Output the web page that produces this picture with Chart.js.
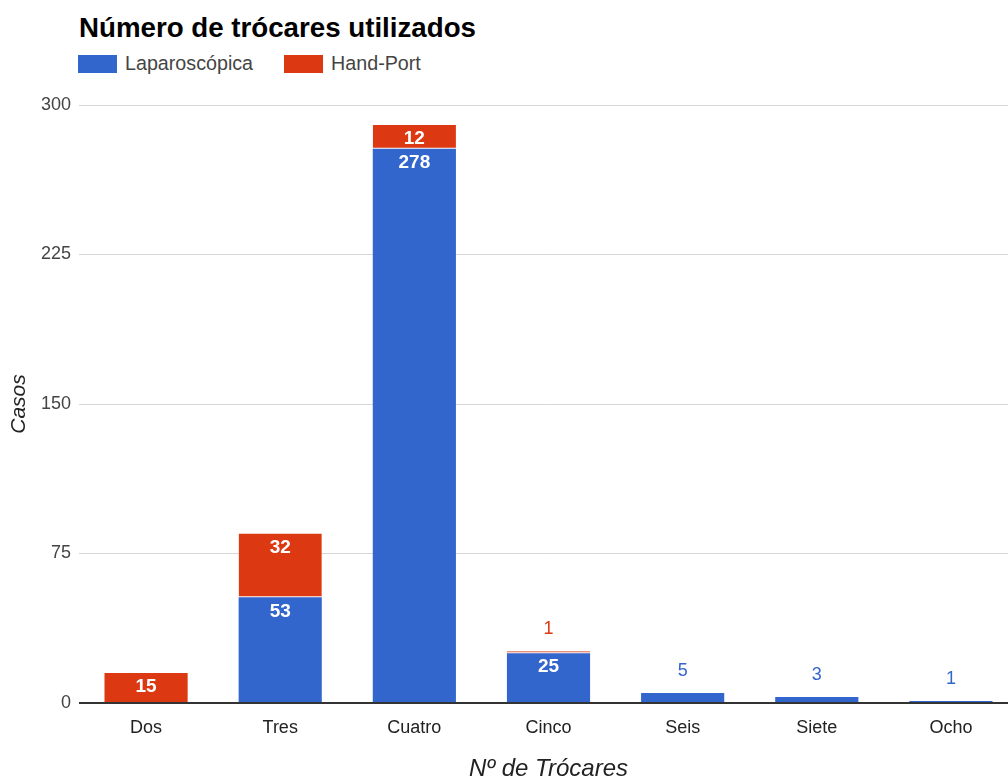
<!DOCTYPE html>
<html lang="es">
<head>
<meta charset="utf-8">
<title>Número de trócares utilizados</title>
<script src="https://cdn.jsdelivr.net/npm/chart.js@4.4.1/dist/chart.umd.min.js"></script>
<style>
  html, body {
    margin: 0;
    padding: 0;
    background: #fff;
  }
  body {
    position: relative;
    width: 1008px;
    height: 781px;
    overflow: hidden;
    font-family: "Liberation Sans", Arial, sans-serif;
  }
  #chartTitle {
    position: absolute;
    left: 79px;
    top: 12px;
    font-size: 27.7px;
    font-weight: bold;
    color: #000;
    white-space: nowrap;
  }
  #legend {
    position: absolute;
    left: 78px;
    top: 52px;
    display: flex;
    align-items: center;
  }
  .legend-item {
    display: flex;
    align-items: center;
    margin-right: 31px;
    font-size: 19.7px;
    color: #444;
  }
  .legend-swatch {
    width: 39px;
    height: 18px;
    margin-right: 8px;
  }
  #chart {
    position: absolute;
    left: 0;
    top: 0;
  }
</style>
</head>
<body>
<div id="chartTitle">Número de trócares utilizados</div>
<div id="legend"></div>
<canvas id="chart" width="1020" height="781"></canvas>
<script>
const categories = ['Dos', 'Tres', 'Cuatro', 'Cinco', 'Seis', 'Siete', 'Ocho'];
const laparoscopica = [0, 53, 278, 25, 5, 3, 1];
const handPort = [15, 32, 12, 1, 0, 0, 0];
const yTicks = [0, 75, 150, 225, 300];

const seriesNames = ['Laparoscópica', 'Hand-Port'];
const seriesColors = ['#3366cc', '#dc3912'];

const fontFamily = '"Liberation Sans", Arial, sans-serif';
Chart.defaults.font.family = fontFamily;

// legend row under the title
const legendEl = document.getElementById('legend');
seriesNames.forEach((name, index) => {
  const item = document.createElement('div');
  item.className = 'legend-item';
  const swatch = document.createElement('div');
  swatch.className = 'legend-swatch';
  swatch.style.background = seriesColors[index];
  const label = document.createElement('span');
  label.textContent = name;
  item.appendChild(swatch);
  item.appendChild(label);
  legendEl.appendChild(item);
});

// value labels: white inside tall segments, coloured above short ones
const barLabels = {
  id: 'barLabels',
  afterDatasetsDraw(chart) {
    const { ctx } = chart;
    ctx.save();
    ctx.textAlign = 'center';
    ctx.textBaseline = 'middle';
    chart.data.datasets.forEach((dataset, i) => {
      const meta = chart.getDatasetMeta(i);
      meta.data.forEach((bar, j) => {
        const value = dataset.data[j];
        if (!value) return;
        const height = bar.base - bar.y;
        if (height >= 20) {
          ctx.fillStyle = '#fff';
          ctx.font = `bold 19px ${fontFamily}`;
          ctx.fillText(String(value), bar.x, bar.y + 14);
        } else {
          ctx.fillStyle = dataset.backgroundColor;
          ctx.font = `18px ${fontFamily}`;
          ctx.fillText(String(value), bar.x, bar.y - 22);
        }
      });
    });
    ctx.restore();
  }
};

const ctx = document.getElementById('chart');
const chart = new Chart(ctx, {
  type: 'bar',
  data: {
    labels: categories,
    datasets: [
      {
        label: seriesNames[0],
        data: laparoscopica,
        backgroundColor: seriesColors[0],
        borderWidth: 0,
        categoryPercentage: 1,
        barPercentage: 0.62
      },
      {
        label: seriesNames[1],
        data: handPort,
        backgroundColor: seriesColors[1],
        borderColor: '#ffffff',
        // white seam only where a blue segment sits underneath
        borderWidth: (context) => (laparoscopica[context.dataIndex] > 0 ? { bottom: 1, top: 0, left: 0, right: 0 } : 0),
        borderSkipped: false,
        categoryPercentage: 1,
        barPercentage: 0.62
      }
    ]
  },
  options: {
    responsive: false,
    animation: false,
    layout: {
      padding: { top: 105, right: 2, bottom: 0, left: 0 }
    },
    plugins: {
      legend: { display: false },
      tooltip: { enabled: false }
    },
    scales: {
      x: {
        stacked: true,
        grid: { display: false, drawTicks: false },
        border: { display: false },
        ticks: {
          color: '#222',
          font: { size: 18 },
          padding: 14
        },
        title: {
          display: true,
          text: 'Nº de Trócares',
          color: '#222',
          font: { size: 24, style: 'italic', lineHeight: 1 },
          padding: { top: 0, bottom: 0 }
        },
        afterFit: (scale) => {
          scale.height = 78;
        }
      },
      y: {
        stacked: true,
        min: 0,
        max: 300,
        afterBuildTicks: (scale) => {
          scale.ticks = yTicks.map((value) => ({ value }));
        },
        grid: {
          drawTicks: false,
          color: (context) => (context.tick && context.tick.value === 0 ? '#333' : '#d6d6d6'),
          lineWidth: (context) => (context.tick && context.tick.value === 0 ? 2 : 1)
        },
        border: { display: false },
        ticks: {
          color: '#444',
          font: { size: 18 },
          padding: 8
        },
        title: {
          display: true,
          text: 'Casos',
          color: '#222',
          font: { size: 21, style: 'italic', lineHeight: 1 },
          padding: { top: 9, bottom: 0 }
        },
        afterFit: (scale) => {
          scale.width = 79;
        }
      }
    }
  },
  plugins: [barLabels]
});
</script>
</body>
</html>
